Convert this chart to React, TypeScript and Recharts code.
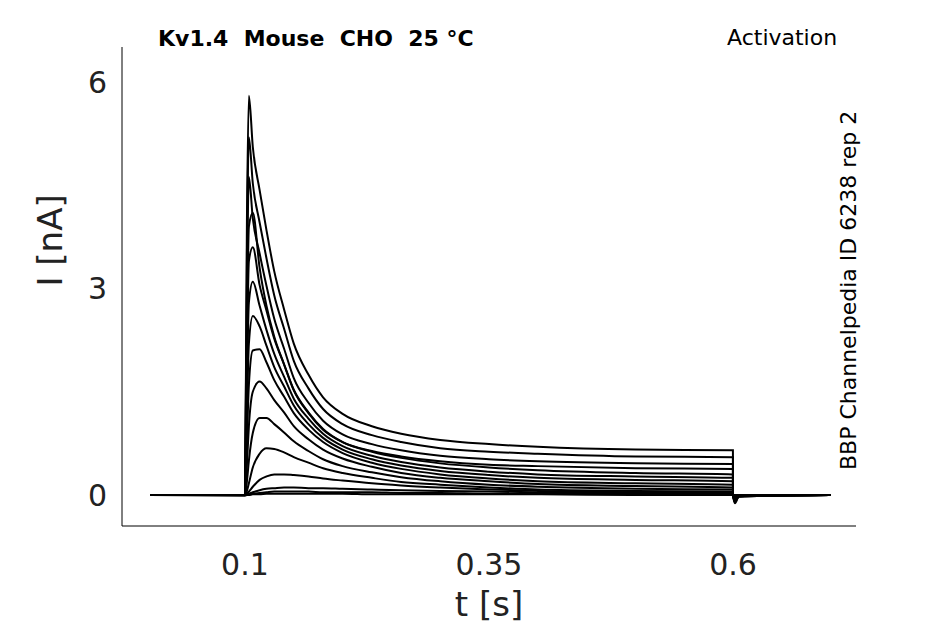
import React from "react";
import { LineChart, Line, XAxis, YAxis } from "recharts";

const times = [0.003, 0.0999, 0.1, 0.102, 0.104, 0.108, 0.115, 0.122, 0.13, 0.14, 0.15, 0.165, 0.18, 0.2, 0.23, 0.26, 0.3, 0.35, 0.4, 0.5, 0.5999, 0.6, 0.602, 0.606, 0.7];
const traces: number[][] = [
  [0, 0, 0, 4.0, 5.8, 5.06, 4.43, 3.85, 3.25, 2.7, 2.2, 1.75, 1.42, 1.18, 1.0, 0.89, 0.8, 0.74, 0.7, 0.66, 0.65, 0.0, -0.12, -0.02, 0],
  [0, 0, 0, 3.5, 5.2, 4.53, 3.96, 3.44, 2.9, 2.42, 1.95, 1.55, 1.25, 1.03, 0.87, 0.77, 0.68, 0.63, 0.6, 0.56, 0.55, 0.0, -0.1, -0.02, 0],
  [0, 0, 0, 3.0, 4.62, 4.02, 3.51, 3.04, 2.56, 2.13, 1.7, 1.34, 1.08, 0.88, 0.74, 0.65, 0.57, 0.52, 0.49, 0.46, 0.45, 0.0, -0.09, -0.02, 0],
  [0, 0, 0, 2.3, 3.9, 4.1, 3.3, 2.75, 2.3, 1.9, 1.52, 1.19, 0.95, 0.77, 0.64, 0.56, 0.49, 0.44, 0.42, 0.39, 0.38, 0.0, -0.08, -0.02, 0],
  [0, 0, 0, 2.0, 3.4, 3.6, 3.05, 2.68, 2.27, 1.9, 1.53, 1.2, 0.96, 0.77, 0.63, 0.54, 0.46, 0.4, 0.36, 0.32, 0.3, 0.0, -0.07, -0.01, 0],
  [0, 0, 0, 1.6, 2.8, 3.1, 2.75, 2.4, 2.05, 1.72, 1.4, 1.11, 0.89, 0.71, 0.57, 0.48, 0.4, 0.34, 0.3, 0.27, 0.25, 0.0, -0.06, -0.01, 0],
  [0, 0, 0, 1.2, 2.2, 2.6, 2.45, 2.17, 1.86, 1.58, 1.3, 1.03, 0.83, 0.66, 0.52, 0.43, 0.35, 0.29, 0.25, 0.22, 0.2, 0.0, -0.05, -0.01, 0],
  [0, 0, 0, 0.8, 1.6, 2.1, 2.12, 1.93, 1.67, 1.43, 1.19, 0.95, 0.77, 0.61, 0.47, 0.38, 0.3, 0.24, 0.2, 0.17, 0.15, 0.0, -0.04, -0.01, 0],
  [0, 0, 0, 0.45, 1.0, 1.5, 1.65, 1.55, 1.38, 1.2, 1.0, 0.81, 0.66, 0.53, 0.41, 0.32, 0.25, 0.2, 0.16, 0.13, 0.11, 0.0, -0.03, 0, 0],
  [0, 0, 0, 0.2, 0.5, 0.9, 1.12, 1.12, 1.03, 0.91, 0.78, 0.64, 0.52, 0.42, 0.33, 0.26, 0.2, 0.15, 0.12, 0.09, 0.08, 0.0, -0.02, 0, 0],
  [0, 0, 0, 0.06, 0.17, 0.4, 0.6, 0.68, 0.67, 0.62, 0.55, 0.47, 0.39, 0.32, 0.25, 0.19, 0.15, 0.11, 0.08, 0.06, 0.05, 0.0, -0.01, 0, 0],
  [0, 0, 0, 0.02, 0.05, 0.12, 0.22, 0.27, 0.3, 0.3, 0.29, 0.27, 0.24, 0.21, 0.17, 0.14, 0.11, 0.08, 0.06, 0.04, 0.03, 0.0, 0, 0, 0],
  [0, 0, 0, 0.01, 0.02, 0.04, 0.07, 0.09, 0.1, 0.11, 0.11, 0.1, 0.1, 0.09, 0.08, 0.07, 0.06, 0.05, 0.04, 0.03, 0.02, 0.0, 0, 0, 0],
  [0, 0, 0, 0.0, 0.01, 0.02, 0.03, 0.04, 0.05, 0.05, 0.05, 0.05, 0.04, 0.04, 0.04, 0.03, 0.03, 0.02, 0.02, 0.02, 0.01, 0.0, 0, 0, 0],
  [0, -0.01, -0.01, 0.0, 0.0, 0.01, 0.01, 0.02, 0.02, 0.02, 0.02, 0.02, 0.02, 0.02, 0.01, 0.01, 0.01, 0.01, 0.01, 0.0, 0.0, 0.0, 0, 0, 0],
];
const xTicks = [0.1, 0.35, 0.6];
const yTicks = [0, 3, 6];

const data = times.map((t, i) => {
  const row: Record<string, number> = { t };
  traces.forEach((tr, k) => (row["s" + k] = tr[i]));
  return row;
});

const font = "DejaVu Sans, sans-serif";

export default function App() {
  return (
    <div style={{ position: "absolute", left: 0, top: 0, width: 945, height: 624, background: "#fff", fontFamily: font }}>
      <LineChart width={945} height={624} data={data} margin={{ top: 47, right: 89, bottom: 58, left: 62 }}>
        <XAxis dataKey="t" type="number" domain={[-0.026, 0.726]} ticks={xTicks} stroke="#000"
          tick={{ fill: "#222", fontSize: 30, fontFamily: font }} tickLine={false} height={40} tickMargin={22}
          label={{ value: "t [s]", position: "insideBottom", offset: -50, fill: "#222", fontSize: 34, fontFamily: font }} />
        <YAxis type="number" domain={[-0.45, 6.51]} ticks={yTicks} stroke="#000" width={60}
          tick={{ fill: "#222", fontSize: 30, fontFamily: font }} tickLine={false} tickMargin={9}
          label={{ value: "I [nA]", angle: -90, position: "insideLeft", offset: -12, fill: "#222", fontSize: 34, fontFamily: font }} />
        {traces.map((_, k) => (
          <Line key={k} dataKey={"s" + k} type="monotone" stroke="#000" strokeWidth={2} dot={false} isAnimationActive={false} />
        ))}
      </LineChart>
      <div style={{ position: "absolute", left: 158, top: 26, fontSize: 22, fontWeight: "bold", whiteSpace: "pre" }}>Kv1.4  Mouse  CHO  25 °C</div>
      <div style={{ position: "absolute", left: 727, top: 25, fontSize: 22 }}>Activation</div>
      <div style={{ position: "absolute", left: 836, top: 470, fontSize: 22, whiteSpace: "nowrap", transform: "rotate(-90deg)", transformOrigin: "0 0" }}>BBP Channelpedia ID 6238 rep 2</div>
    </div>
  );
}
